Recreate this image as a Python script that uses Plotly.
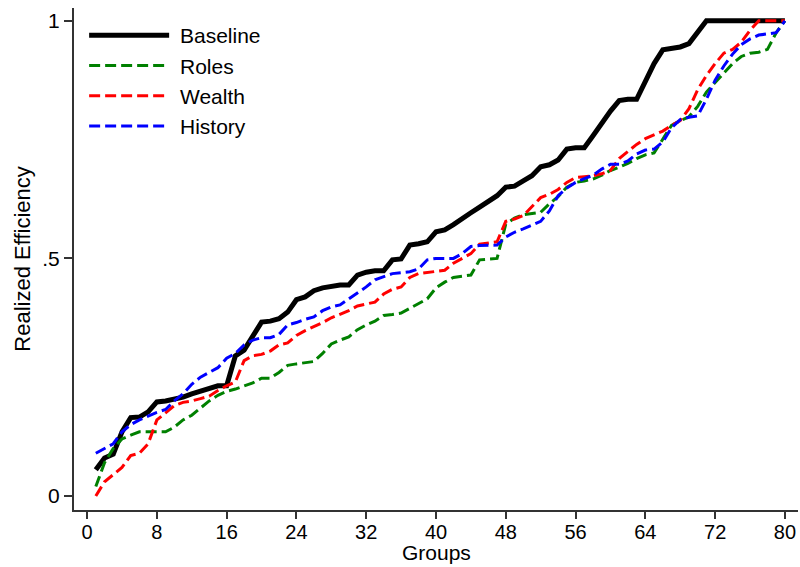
import plotly.graph_objects as go

groups = list(range(1, 81))

baseline = [0.055, 0.08, 0.088, 0.135, 0.165, 0.166, 0.177, 0.198, 0.200, 0.204,
            0.208, 0.215, 0.221, 0.227, 0.232, 0.232, 0.295, 0.307, 0.337, 0.366,
            0.368, 0.373, 0.387, 0.413, 0.419, 0.432, 0.438, 0.442, 0.444, 0.444,
            0.465, 0.471, 0.474, 0.474, 0.497, 0.499, 0.528, 0.531, 0.535, 0.556,
            0.560, 0.571, 0.585, 0.596, 0.608, 0.619, 0.632, 0.650, 0.652, 0.663,
            0.674, 0.693, 0.697, 0.707, 0.730, 0.733, 0.733, 0.758, 0.785, 0.810,
            0.832, 0.835, 0.835, 0.870, 0.910, 0.939, 0.941, 0.945, 0.952, 0.977,
            1.0, 1.0, 1.0, 1.0, 1.0, 1.0, 1.0, 1.0, 1.0, 1.0]

roles = [0.020, 0.070, 0.100, 0.120, 0.128, 0.135, 0.135, 0.135, 0.135, 0.145,
         0.160, 0.170, 0.185, 0.200, 0.212, 0.220, 0.225, 0.232, 0.238, 0.248,
         0.248, 0.260, 0.275, 0.278, 0.280, 0.283, 0.300, 0.320, 0.328, 0.335,
         0.350, 0.360, 0.368, 0.380, 0.382, 0.385, 0.395, 0.405, 0.415, 0.438,
         0.450, 0.460, 0.463, 0.465, 0.497, 0.498, 0.500, 0.572, 0.585, 0.592,
         0.595, 0.597, 0.615, 0.630, 0.650, 0.660, 0.663, 0.667, 0.675, 0.685,
         0.692, 0.700, 0.710, 0.718, 0.722, 0.750, 0.780, 0.790, 0.798, 0.820,
         0.850, 0.870, 0.890, 0.910, 0.925, 0.932, 0.934, 0.940, 0.975, 1.0]

wealth = [0.000, 0.030, 0.045, 0.060, 0.085, 0.090, 0.110, 0.160, 0.175, 0.190,
          0.197, 0.200, 0.205, 0.210, 0.222, 0.232, 0.240, 0.285, 0.295, 0.298,
          0.305, 0.318, 0.322, 0.338, 0.348, 0.356, 0.365, 0.375, 0.382, 0.390,
          0.400, 0.404, 0.408, 0.425, 0.435, 0.440, 0.460, 0.468, 0.470, 0.472,
          0.475, 0.490, 0.500, 0.510, 0.530, 0.533, 0.535, 0.578, 0.583, 0.590,
          0.610, 0.628, 0.635, 0.645, 0.660, 0.670, 0.672, 0.674, 0.678, 0.685,
          0.710, 0.725, 0.740, 0.752, 0.760, 0.768, 0.780, 0.790, 0.815, 0.855,
          0.885, 0.910, 0.932, 0.940, 0.955, 0.980, 1.0, 1.0, 1.0, 1.0]

history = [0.090, 0.100, 0.110, 0.135, 0.150, 0.160, 0.168, 0.176, 0.182, 0.200,
           0.215, 0.235, 0.250, 0.260, 0.270, 0.290, 0.300, 0.318, 0.328, 0.333,
           0.333, 0.340, 0.360, 0.365, 0.372, 0.377, 0.390, 0.398, 0.402, 0.415,
           0.428, 0.440, 0.455, 0.462, 0.468, 0.470, 0.472, 0.478, 0.497, 0.500,
           0.500, 0.500, 0.510, 0.525, 0.527, 0.527, 0.528, 0.545, 0.555, 0.562,
           0.570, 0.578, 0.600, 0.632, 0.648, 0.660, 0.668, 0.675, 0.688, 0.698,
           0.698, 0.705, 0.720, 0.728, 0.730, 0.745, 0.775, 0.792, 0.797, 0.800,
           0.835, 0.875, 0.905, 0.930, 0.950, 0.962, 0.970, 0.973, 0.975, 1.0]

series_names = ["Baseline", "Roles", "Wealth", "History"]
x_ticks = [0, 8, 16, 24, 32, 40, 48, 56, 64, 72, 80]
y_ticks = [0, 0.5, 1]
y_tick_labels = ["0", ".5", "1"]

FONT = "Liberation Sans, Arial, sans-serif"
AXC = "#333333"
NB = "\u00a0"

fig = go.Figure()
fig.add_trace(go.Scatter(x=groups, y=baseline, mode="lines", name=NB + series_names[0],
                         line=dict(color="black", width=5)))
fig.add_trace(go.Scatter(x=groups, y=roles, mode="lines", name=NB + series_names[1],
                         line=dict(color="#008000", width=3, dash="11px,5px")))
fig.add_trace(go.Scatter(x=groups, y=wealth, mode="lines", name=NB + series_names[2],
                         line=dict(color="#ff0000", width=3, dash="11px,5px")))
fig.add_trace(go.Scatter(x=groups, y=history, mode="lines", name=NB + series_names[3],
                         line=dict(color="#0000ff", width=3, dash="11px,5px")))

fig.update_layout(
    width=800, height=567,
    margin=dict(l=74, r=2, t=8, b=57, autoexpand=False),
    paper_bgcolor="white", plot_bgcolor="white",
    font=dict(family=FONT, size=21, color="black"),
    showlegend=True,
    legend=dict(x=0.014, y=0.986, xanchor="left", yanchor="top",
                bgcolor="rgba(255,255,255,0)", borderwidth=0,
                itemwidth=80, font=dict(size=21), tracegroupgap=0),
    xaxis=dict(range=[-1.5, 81.5], tickvals=x_ticks, showgrid=False, zeroline=False,
               automargin=False,
               showline=True, linecolor=AXC, linewidth=2,
               ticks="outside", ticklen=7, tickwidth=2, tickcolor=AXC,
               ticklabelstandoff=-4,
               tickfont=dict(size=20)),
    yaxis=dict(range=[-0.0295, 1.027], tickvals=y_ticks, ticktext=y_tick_labels,
               showgrid=False, zeroline=False, automargin=False,
               showline=True, linecolor=AXC, linewidth=2,
               ticks="outside", ticklen=8, tickwidth=2, tickcolor=AXC,
               tickfont=dict(size=21),
               title=dict(text="Realized Efficiency", standoff=6, font=dict(size=22))),
    annotations=[dict(text="Groups", xref="paper", yref="paper", x=0.5, y=-0.0837,
                      xanchor="center", yanchor="middle", showarrow=False,
                      font=dict(size=21))],
)

fig.write_html("out.html", config={"displayModeBar": False},
               post_script="document.body.style.margin='0';document.body.style.padding='0';")
